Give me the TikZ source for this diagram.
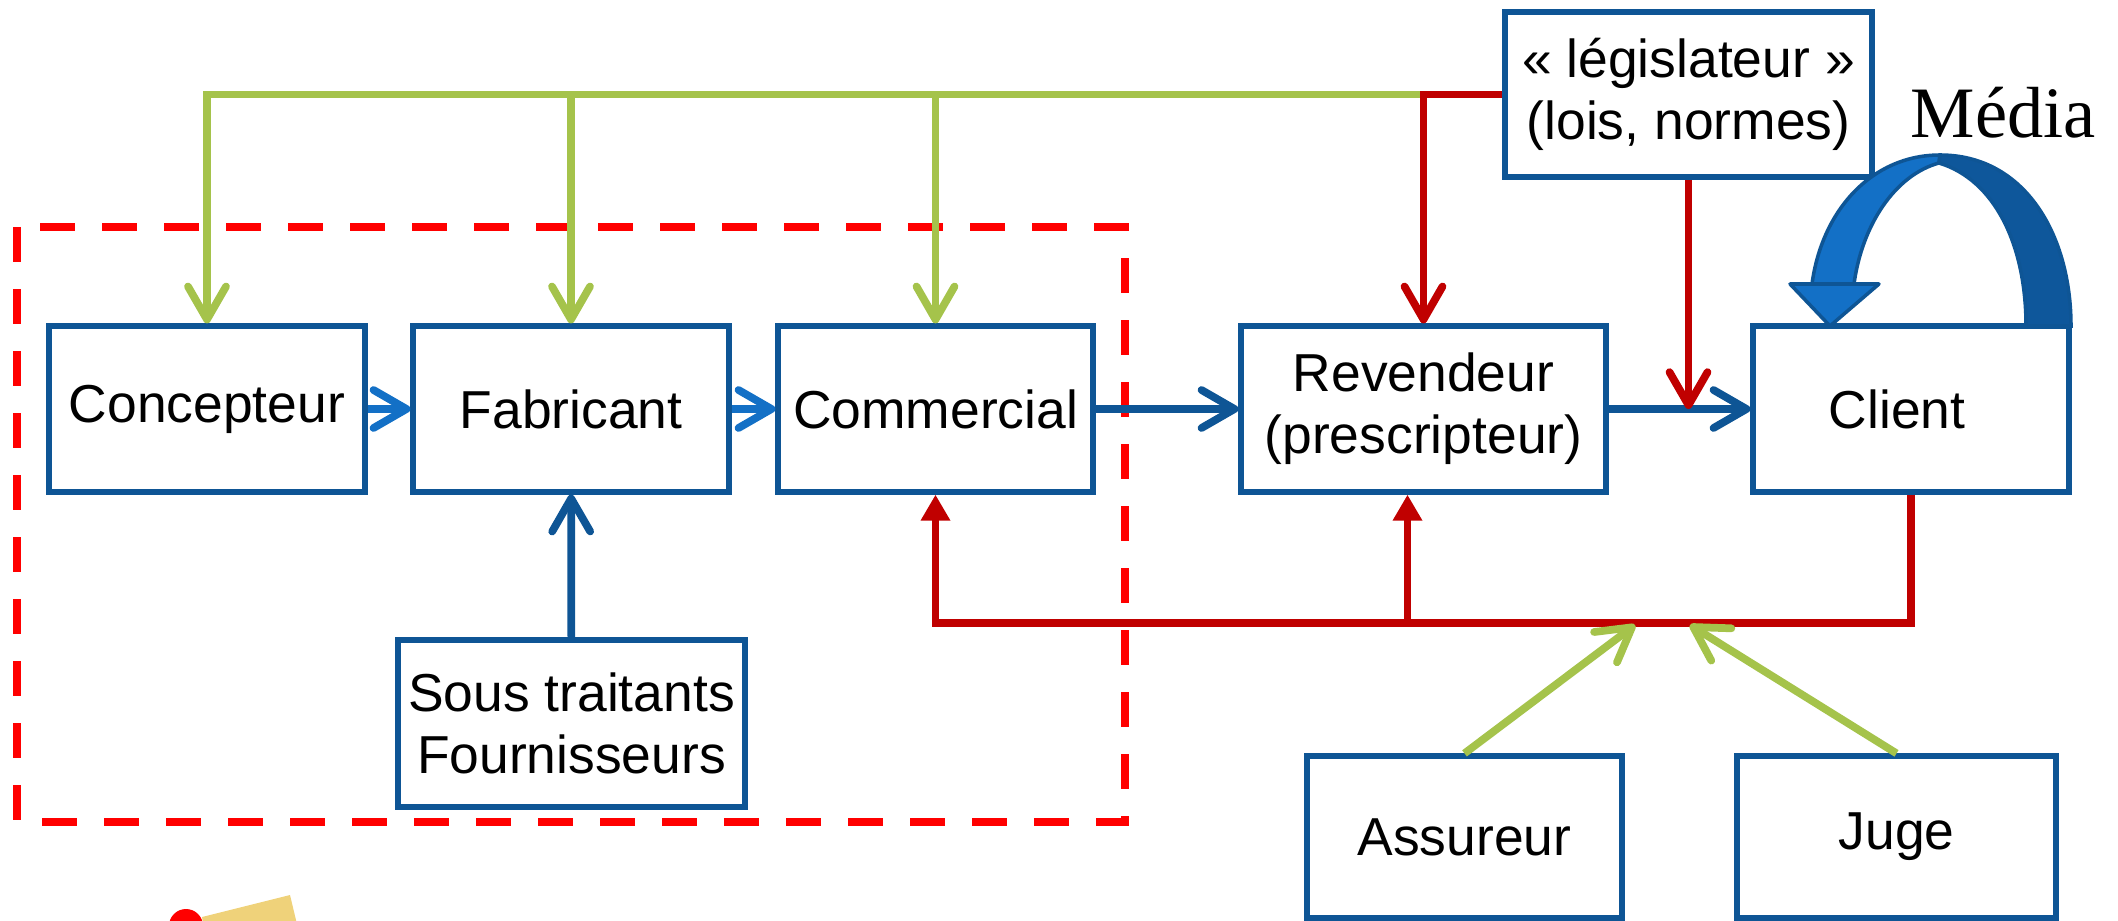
\documentclass[tikz,border=0pt]{standalone}
\usepackage{fontspec}
\setmainfont{Liberation Sans}
\newfontfamily\mediafont{Liberation Serif}
\usetikzlibrary{arrows.meta,positioning}

\definecolor{boxblue}{HTML}{0E5595}
\definecolor{flowblue}{HTML}{1370C6}
\definecolor{lawgreen}{HTML}{A5C34B}
\definecolor{loopred}{HTML}{C00000}
\definecolor{zonered}{HTML}{FF0000}
\definecolor{arcdark}{HTML}{0E579B}
\definecolor{noteyellow}{HTML}{EFD27A}

\tikzset{
    actor/.style={draw=boxblue, line width=1.5pt, minimum width=3.16cm,
        minimum height=1.66cm, inner sep=0pt, align=center,
        font=\fontsize{15.2}{17.6}\selectfont},
    barb/.style={-{Straight Barb[length=3.3mm, width=3.8mm, round]}, line width=2.2pt},
    lawbarb/.style={barb, lawgreen},
    redbarb/.style={barb, loopred},
    redtri/.style={-{Triangle[length=2.6mm, width=2.8mm]}, loopred, line width=2.2pt}
}

\begin{document}
\begin{tikzpicture}
    \useasboundingbox (0,0) rectangle (21.18,-9.21);

    % Zone entreprise (dashed)
    \draw[zonered, line width=2pt, dash pattern=on 0.35cm off 0.27cm] (0.17,-2.27) rectangle (11.25,-8.22);

    % Acteurs de la chaine
    \node[actor] (conc) at (2.07,-4.09) {Concepteur};
    \node[actor] (fab) at (5.71,-4.09) {Fabricant};
    \node[actor, minimum width=3.15cm] (comm) at (9.355,-4.09) {Commercial};
    \node[actor, minimum width=3.65cm] (rev) at (14.235,-4.09) {Revendeur\\(prescripteur)};
    \node[actor] (client) at (19.11,-4.09) {Client\hspace{0.28cm}};

    % Autour de la chaine
    \node[actor, minimum width=3.67cm, minimum height=1.65cm] (legis) at (16.885,-0.945) {« législateur »\\(lois, normes)};
    \node[actor, minimum width=3.47cm, minimum height=1.67cm] (sous) at (5.715,-7.235) {Sous traitants\\Fournisseurs};
    \node[actor, minimum width=3.15cm, minimum height=1.62cm] (assur) at (14.645,-8.37) {Assureur};
    \node[actor, minimum width=3.19cm, minimum height=1.62cm] (juge) at (18.965,-8.37) {Juge};
    \node[font=\mediafont\fontsize{20.6}{24}\selectfont, anchor=base west, inner sep=0pt] (media) at (19.10,-1.38) {Média};

    % Flux principal
    \draw[barb, flowblue] (conc) -- (fab);
    \draw[barb, flowblue] (fab) -- (comm);
    \draw[barb, boxblue] (comm) -- (rev);
    \draw[barb, boxblue] (rev) -- (client);
    \draw[barb, boxblue] (sous) -- (fab);

    % Lois et normes
    \draw[lawbarb] (rev.north |- legis.west) -| (conc.north);
    \foreach \n in {fab, comm} {
        \draw[lawbarb] (\n.north |- legis.west) -- (\n.north);
    }
    \draw[redbarb] (legis.west) -| (rev.north);
    \draw[redbarb] (legis.south) -- (legis.south |- client.west);

    % Retour client
    \coordinate (rbus) at (0,-6.23);
    \draw[redtri] (client.south) |- (comm.south |- rbus) -- (comm.south);
    \draw[redtri] ([xshift=-0.16cm]rev.south |- rbus) -- ([xshift=-0.16cm]rev.south);
    \coordinate (hitA) at (16.35,-6.25);
    \coordinate (hitJ) at (16.90,-6.25);
    \draw[lawbarb] (assur.north) -- (hitA);
    \draw[lawbarb] (juge.north) -- (hitJ);

    % Boucle media
    \filldraw[fill=flowblue, draw=boxblue, line width=1pt] (18.12,-2.84) .. controls (18.22,-2.10) and (18.72,-1.55) .. (19.40,-1.55)
        -- (19.39,-1.63) .. controls (18.95,-1.75) and (18.62,-2.25) .. (18.54,-2.84) -- cycle;
    \filldraw[fill=arcdark, draw=boxblue, line width=1pt] (19.40,-1.55) .. controls (20.25,-1.55) and (20.71,-2.35) .. (20.71,-3.26)
        -- (20.26,-3.26) .. controls (20.26,-2.45) and (19.95,-1.80) .. (19.39,-1.63) -- cycle;
    \filldraw[fill=flowblue, draw=boxblue, line width=1pt, line join=round] (17.90,-2.84) -- (18.79,-2.84) -- (18.30,-3.26) -- cycle;

    % Punaise et note
    \begin{scope}
        \clip (0,0) rectangle (21.18,-9.21);
        \fill[noteyellow] (2.02,-9.17) -- (2.90,-8.95) -- (3.02,-9.45) -- (2.10,-9.60) -- cycle;
        \fill[zonered] (1.86,-9.26) circle (0.17);
    \end{scope}

\end{tikzpicture}
\end{document}
